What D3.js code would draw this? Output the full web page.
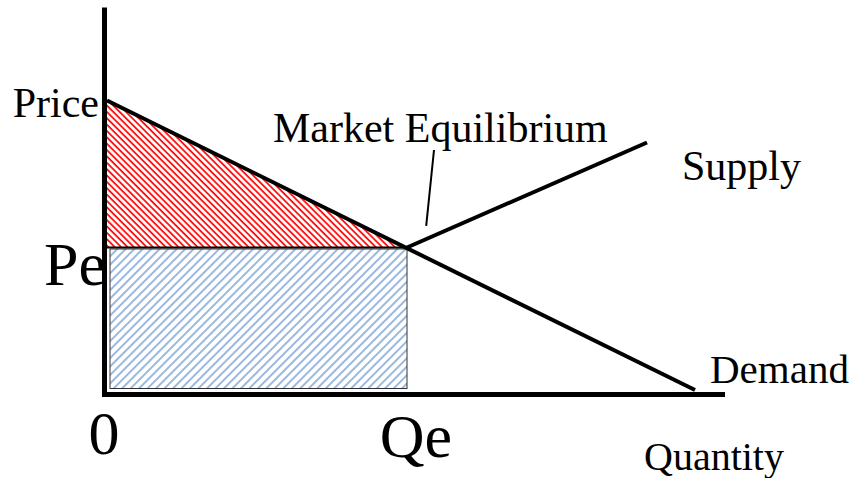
<!DOCTYPE html>
<html>
<head>
<meta charset="utf-8">
<script src="https://cdn.jsdelivr.net/npm/d3@7"></script>
<style>
  body { margin: 0; background: #fff; }
  text { font-family: "Liberation Serif", "Times New Roman", serif; fill: #000; }
</style>
</head>
<body>
<svg width="852" height="478"></svg>
<script>
// market values (quantity, price)
const demand = [[0, 9.65], [9.8, 0]];
const supply = [[5, 4.75], [9.0, 8.25]];
const equilibrium = [5, 4.75];           // Qe, Pe
const leader = [[5.45, 8.0], [5.32, 5.47]];
const axisMax = [10.3, 12.75];           // quantity, price extents of the axes

const labels = ["Price", "Pe", "0", "Qe", "Quantity", "Demand", "Supply", "Market Equilibrium"];

let svg = d3.select("svg");

let x = d3.scaleLinear().domain([0, 10]).range([107, 707]);
let y = d3.scaleLinear().domain([0, 10]).range([390, 90]);

let line = d3.line().x(d => x(d[0])).y(d => y(d[1]));

let defs = svg.append("defs");

// red hatching  "\"
defs.append("pattern")
    .attr("id", "redHatch")
    .attr("patternUnits", "userSpaceOnUse")
    .attr("width", 4.5).attr("height", 4.5)
    .attr("patternTransform", "rotate(-45)")
    .append("line")
    .attr("x1", 1).attr("y1", 0).attr("x2", 1).attr("y2", 4.5)
    .attr("stroke", "#f00").attr("stroke-width", 1.7);

// blue hatching  "/"
defs.append("pattern")
    .attr("id", "blueHatch")
    .attr("patternUnits", "userSpaceOnUse")
    .attr("width", 6).attr("height", 6)
    .attr("patternTransform", "rotate(45)")
    .append("line")
    .attr("x1", 1).attr("y1", 0).attr("x2", 1).attr("y2", 6)
    .attr("stroke", "#8aacd9").attr("stroke-width", 1.7);

let Qe = equilibrium[0], Pe = equilibrium[1];

// consumer surplus triangle
svg.append("path")
    .attr("d", line([[0, demand[0][1]], [0, Pe], [Qe, Pe]]) + "Z")
    .attr("fill", "url(#redHatch)");

// revenue rectangle
svg.append("rect")
    .attr("x", x(0) + 3)
    .attr("y", y(Pe) + 1.5)
    .attr("width", x(Qe) - x(0) - 3)
    .attr("height", y(0) - y(Pe) - 3)
    .attr("fill", "url(#blueHatch)")
    .attr("stroke", "#333")
    .attr("stroke-width", 1);

// Pe line
svg.append("path")
    .attr("d", line([[0, Pe], [Qe, Pe]]))
    .attr("stroke", "#000").attr("stroke-width", 2).attr("fill", "none");

// axes
svg.append("line")
    .attr("x1", x(0) - 2.5).attr("x2", x(0) - 2.5)
    .attr("y1", y(axisMax[1])).attr("y2", y(0) + 6.5)
    .attr("stroke", "#000").attr("stroke-width", 5);
svg.append("line")
    .attr("x1", x(0) - 5).attr("x2", x(axisMax[0]))
    .attr("y1", y(0) + 4.5).attr("y2", y(0) + 4.5)
    .attr("stroke", "#000").attr("stroke-width", 5);

// demand and supply
svg.append("path").attr("d", line(demand))
    .attr("stroke", "#000").attr("stroke-width", 4).attr("fill", "none");
svg.append("path").attr("d", line(supply))
    .attr("stroke", "#000").attr("stroke-width", 4).attr("fill", "none");

// leader line
svg.append("path").attr("d", line(leader))
    .attr("stroke", "#000").attr("stroke-width", 2).attr("fill", "none");

// labels
function label(t, px, py, size, anchor) {
    svg.append("text")
        .attr("x", px).attr("y", py)
        .attr("font-size", size)
        .attr("text-anchor", anchor || "start")
        .text(t);
}
label(labels[0], x(0) - 8, y(demand[0][1]) + 16, 42, "end");
label(labels[1], x(0) - 1, y(Pe) + 37, 62, "end");
label(labels[2], x(0) - 3, y(0) + 64, 62, "middle");
label(labels[3], x(Qe) + 9, y(0) + 67, 62, "middle");
label(labels[4], 714, y(0) + 80, 40, "middle");
label(labels[5], 710, y(0) - 7, 41, "start");
label(labels[6], 682, 180, 42, "start");
label(labels[7], 273, 142, 42, "start");
</script>
</body>
</html>
